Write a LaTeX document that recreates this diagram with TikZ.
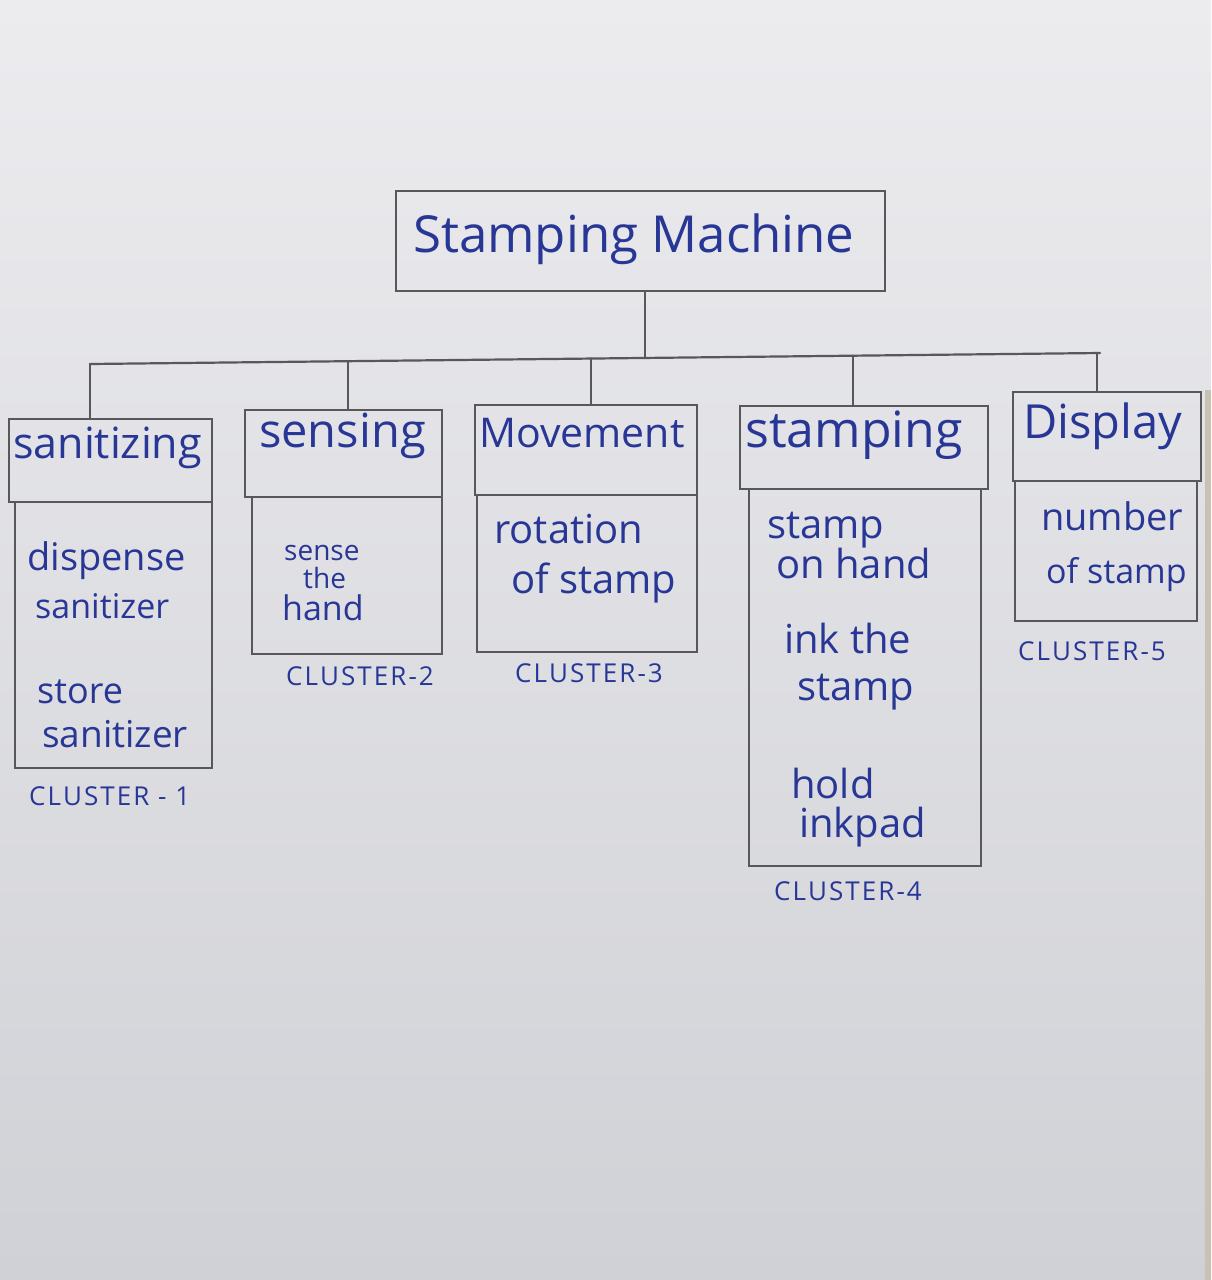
\documentclass[tikz,border=0pt]{standalone}
\usepackage{fontspec}
\setmainfont{Open Sans}
\newfontfamily\capsfont[LetterSpace=8]{Open Sans}
\usetikzlibrary{calc}
\definecolor{ink}{RGB}{40,55,150}
\definecolor{pencil}{RGB}{88,88,90}
\definecolor{papertop}{RGB}{236,236,239}
\definecolor{paperbot}{RGB}{208,209,214}
\definecolor{tabletop}{RGB}{200,194,180}
\newcommand\hwline[5]{\node[hw, font=\fontsize{#4}{#4}\selectfont] (#1) at (#2,#3) {#5};}
\newcommand\cluline[4]{\node[hw, font=\capsfont\fontsize{26}{26}\selectfont] (#1) at (#2,#3) {#4};}
\begin{document}
\begin{tikzpicture}[x=1pt,y=-1pt,
  box/.style={draw=pencil, line width=2.2pt, rectangle, inner sep=0pt, anchor=north west},
  wire/.style={draw=pencil, line width=2.2pt, line cap=round},
  hw/.style={text=ink, inner sep=0pt, anchor=base west}]
\fill[top color=papertop, bottom color=paperbot] (0,0) rectangle (1211,1280);
\fill[tabletop] (1205,390) rectangle (1211,1280);
\useasboundingbox (0,0) rectangle (1211,1280);

% boxes
\node[box, minimum width=489pt, minimum height=100pt] (top) at (395,190) {};
\node[box, minimum width=203pt, minimum height=83pt]  (h1) at (8,418) {};
\node[box, minimum width=197pt, minimum height=266pt] (b1) at (14,501) {};
\node[box, minimum width=197pt, minimum height=87pt]  (h2) at (244,409) {};
\node[box, minimum width=190pt, minimum height=157pt] (b2) at (251,496) {};
\node[box, minimum width=222pt, minimum height=90pt]  (h3) at (474,404) {};
\node[box, minimum width=220pt, minimum height=157pt] (b3) at (476,494) {};
\node[box, minimum width=248pt, minimum height=83pt]  (h4) at (739,405) {};
\node[box, minimum width=232pt, minimum height=377pt] (b4) at (748,488) {};
\node[box, minimum width=188pt, minimum height=89pt]  (h5) at (1012,391) {};
\node[box, minimum width=182pt, minimum height=140pt] (b5) at (1014,480) {};

% connectors
\coordinate (barL) at (90,364);
\coordinate (barR) at (1100,353);
\coordinate (j0) at ($(barL)!0.5495!(barR)$);
\coordinate (d1) at (barL);
\coordinate (d2) at ($(barL)!0.2554!(barR)$);
\coordinate (d3) at ($(barL)!0.496!(barR)$);
\coordinate (d4) at ($(barL)!0.7554!(barR)$);
\coordinate (d5) at ($(barL)!0.997!(barR)$);
\draw[wire] (top.south -| j0) -- (j0);
\draw[wire] (barL) -- (barR);
\draw[wire] (d1) -- (d1 |- h1.north);
\draw[wire] (d2) -- (d2 |- h2.north);
\draw[wire] (d3) -- (d3 |- h3.north);
\draw[wire] (d4) -- (d4 |- h4.north);
\draw[wire] (d5) -- (d5 |- h5.north);

% texts
\hwline{tt}{413}{252}{51}{Stamping Machine}
\hwline{t1}{13}{458}{43}{sanitizing}
\hwline{t2}{259}{447}{47}{sensing}
\hwline{t3}{479}{447}{41}{Movement}
\hwline{t4}{745}{447}{50}{stamping}
\hwline{t5}{1023}{438}{47}{Display}

\hwline{s11}{27}{570}{38}{dispense}
\hwline{s12}{35}{618}{34}{sanitizer}
\hwline{s13}{37}{703}{36}{store}
\hwline{s14}{42}{747}{37}{sanitizer}

\hwline{s21}{284}{560}{28}{sense}
\hwline{s22}{303}{588}{28}{the}
\hwline{s23}{282}{620}{34}{hand}

\hwline{s31}{494}{543}{40}{rotation}
\hwline{s32}{511}{593}{40}{of stamp}

\hwline{s41}{767}{538}{40}{stamp}
\hwline{s42}{776}{578}{40}{on hand}
\hwline{s43}{784}{653}{40}{ink the}
\hwline{s44}{797}{700}{40}{stamp}
\hwline{s45}{791}{798}{40}{hold}
\hwline{s46}{799}{837}{40}{inkpad}

\hwline{s51}{1041}{530}{38}{number}
\hwline{s52}{1046}{583}{34}{of stamp}

\cluline{c1}{29}{805}{CLUSTER - 1}
\cluline{c2}{286}{685}{CLUSTER-2}
\cluline{c3}{515}{682}{CLUSTER-3}
\cluline{c4}{774}{900}{CLUSTER-4}
\cluline{c5}{1018}{660}{CLUSTER-5}
\end{tikzpicture}
\end{document}
